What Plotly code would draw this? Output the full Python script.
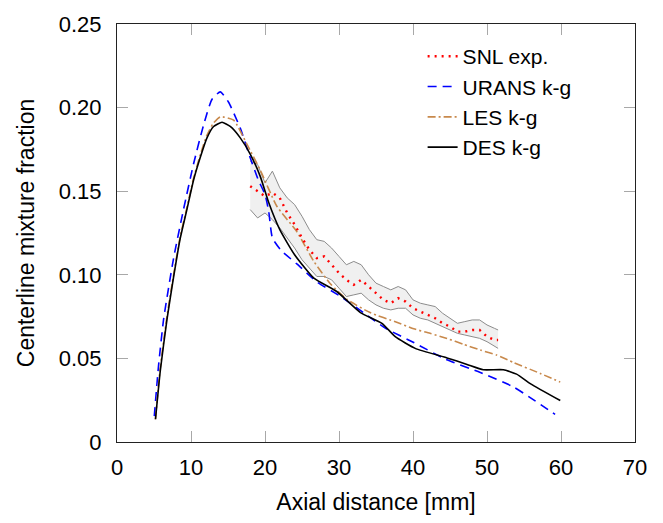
import plotly.graph_objects as go

# ---- data ----
exp_x = [18, 19, 20, 21, 22, 23, 24, 25, 26, 27, 28, 29, 30, 31, 32, 33, 34, 35,
         36, 37, 38, 39, 40, 41, 42, 43, 44, 45, 46, 47, 48, 49, 50, 51, 51.5]
exp_mean = [0.153, 0.150, 0.147, 0.149, 0.146, 0.137, 0.130, 0.122, 0.115, 0.110,
            0.111, 0.106, 0.101, 0.097, 0.094, 0.097, 0.093, 0.089, 0.085, 0.083,
            0.086, 0.084, 0.080, 0.078, 0.076, 0.074, 0.071, 0.069, 0.066, 0.066,
            0.067, 0.067, 0.063, 0.061, 0.061]
exp_upper = [0.168, 0.166, 0.155, 0.162, 0.152, 0.146, 0.142, 0.135, 0.127, 0.121,
             0.120, 0.116, 0.111, 0.106, 0.108, 0.106, 0.100, 0.095, 0.093, 0.091,
             0.093, 0.091, 0.085, 0.083, 0.082, 0.081, 0.077, 0.074, 0.071, 0.072,
             0.073, 0.073, 0.070, 0.068, 0.067]
exp_lower = [0.139, 0.134, 0.137, 0.133, 0.128, 0.122, 0.116, 0.109, 0.104, 0.099,
             0.099, 0.097, 0.092, 0.087, 0.088, 0.089, 0.085, 0.082, 0.080, 0.079,
             0.080, 0.080, 0.076, 0.074, 0.073, 0.071, 0.069, 0.067, 0.065, 0.064,
             0.063, 0.062, 0.060, 0.057, 0.056]

urans_x = [5.04, 5.6, 6.3, 7.65, 9.0, 10.35, 11.7, 12.84, 13.96, 15.08, 16.66, 18.0,
           19.1, 20.0, 20.5, 21.0, 22.2, 24.3, 27.0, 30.2, 33.3, 36.3, 40.1, 44.4,
           49.1, 53.6, 56.3, 59.2]
urans_y = [0.0155, 0.045, 0.0735, 0.110, 0.1393, 0.1664, 0.1896, 0.205, 0.2094,
           0.2032, 0.1877, 0.170, 0.1567, 0.148, 0.138, 0.122, 0.1145, 0.1065, 0.0958,
           0.0871, 0.0774, 0.068, 0.0595, 0.0495, 0.0416, 0.0329, 0.0252, 0.0165]

les_x = [5.2, 5.8, 6.7, 7.6, 8.5, 9.4, 10.3, 11.2, 12.1, 13.0, 13.96, 15.76, 17.57,
         19.37, 21.6, 24.3, 26.6, 28.8, 31.1, 34.2, 37.8, 40.1, 42.3, 44.6, 46.8,
         49.1, 51.3, 53.6, 57.2, 59.9]
les_y = [0.0136, 0.0426, 0.0735, 0.0987, 0.1219, 0.1393, 0.157, 0.171, 0.183, 0.1905,
         0.1945, 0.1925, 0.178, 0.1625, 0.141, 0.1258, 0.108, 0.0948, 0.0852, 0.0774,
         0.0716, 0.0677, 0.0650, 0.0619, 0.0585, 0.0550, 0.0520, 0.0475, 0.0410,
         0.0358]

des_x = [5.2, 5.85, 6.76, 7.65, 8.55, 9.46, 10.35, 11.26, 12.16, 13.05, 14.19, 15.3,
         16.66, 18.0, 19.37, 20.5, 22.0, 24.0, 26.6, 29.7, 32.9, 35.8, 37.6, 40.3,
         44.6, 47.3, 49.5, 52.2, 54.0, 55.9, 59.9]
des_y = [0.0136, 0.0426, 0.0735, 0.0987, 0.1219, 0.1393, 0.1567, 0.1703, 0.1819,
         0.1887, 0.1912, 0.1887, 0.1819, 0.1722, 0.1587, 0.1432, 0.127, 0.112, 0.098,
         0.090, 0.0774, 0.071, 0.063, 0.056, 0.0503, 0.0464, 0.0432, 0.0432, 0.0406,
         0.0348, 0.0248]

x_ticks = [0, 10, 20, 30, 40, 50, 60, 70]
y_ticks = [0, 0.05, 0.10, 0.15, 0.20, 0.25]
y_ticktext = ["0", "0.05", "0.10", "0.15", "0.20", "0.25"]

FONT = "Liberation Sans, Arial, Helvetica, sans-serif"

fig = go.Figure()

# experimental band
fig.add_trace(go.Scatter(x=exp_x, y=exp_upper, mode="lines",
                         line=dict(color="#8c8c8c", width=1),
                         showlegend=False, hoverinfo="skip"))
fig.add_trace(go.Scatter(x=exp_x, y=exp_lower, mode="lines", fill="tonexty",
                         fillcolor="#f0f0f0",
                         line=dict(color="#8c8c8c", width=1),
                         showlegend=False, hoverinfo="skip"))

fig.add_trace(go.Scatter(x=urans_x, y=urans_y, mode="lines", name="URANS k-g",
                         line=dict(color="#0000ff", width=1.6, dash="9px,6px",
                                   shape="spline", smoothing=0.5),
                         legendrank=2, legendgroup="b"))
fig.add_trace(go.Scatter(x=les_x, y=les_y, mode="lines", name="LES k-g",
                         line=dict(color="#c8894c", width=1.6, dash="8px,3px,2px,3px",
                                   shape="spline", smoothing=0.5),
                         legendrank=3, legendgroup="c"))
fig.add_trace(go.Scatter(x=des_x, y=des_y, mode="lines", name="DES k-g",
                         line=dict(color="#000000", width=1.6,
                                   shape="spline", smoothing=0.5),
                         legendrank=4, legendgroup="d"))
fig.add_trace(go.Scatter(x=exp_x, y=exp_mean, mode="lines", name="SNL exp.",
                         line=dict(color="#ff0000", width=2.4, dash="2px,5px"),
                         legendrank=1, legendgroup="a"))

axis_common = dict(
    showgrid=False, zeroline=False,
    showline=True, linecolor="#222222", linewidth=1, mirror="ticks",
    ticks="inside", ticklen=11, tickwidth=1, tickcolor="#a8a8a8",
    tickfont=dict(family=FONT, size=22, color="#000000"),
    title_font=dict(family=FONT, size=23, color="#000000"),
)

fig.update_xaxes(range=[0, 70], tickvals=x_ticks,
                 title_text="Axial distance [mm]", title_standoff=14,
                 ticklabelstandoff=6, **axis_common)
fig.update_yaxes(range=[0, 0.25], tickvals=y_ticks, ticktext=y_ticktext,
                 title_text="Centerline mixture fraction", title_standoff=17,
                 ticklabelstandoff=10, **axis_common)

fig.update_layout(
    width=663, height=523,
    margin=dict(l=117, r=28, t=16, b=76),
    paper_bgcolor="white", plot_bgcolor="white",
    font=dict(family=FONT, color="#000000"),
    legend=dict(x=0.59, y=0.971, xanchor="left", yanchor="top",
                bgcolor="rgba(0,0,0,0)", borderwidth=0,
                font=dict(family=FONT, size=21, color="#000000"),
                traceorder="grouped", tracegroupgap=0),
)

fig.write_html("out.html")
